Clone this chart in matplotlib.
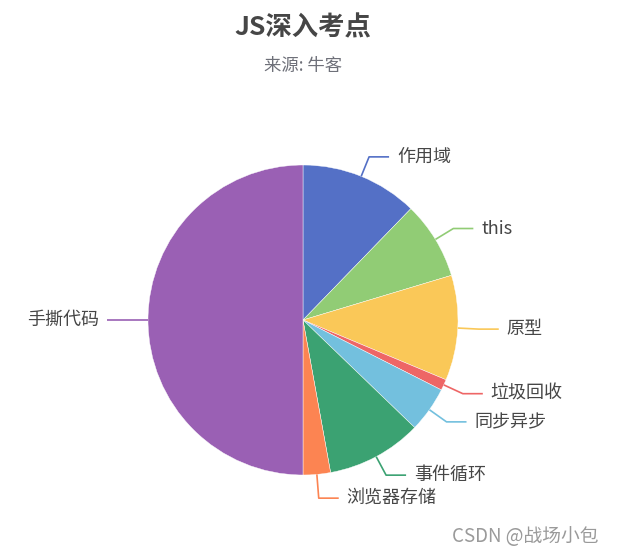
import numpy as np
import matplotlib
matplotlib.use('Agg')
import matplotlib.pyplot as plt

plt.rcParams['font.family'] = ['Noto Sans CJK SC', 'DejaVu Sans']

# data (share of topics)
labels = ['作用域', 'this', '原型', '垃圾回收', '同步异步', '事件循环', '浏览器存储', '手撕代码']
values = [12.25, 8.1, 10.95, 1.15, 4.75, 9.95, 2.85, 50.0]
colors = ['#5470c6', '#91cc75', '#fac858', '#ee6666', '#73c0de', '#3ba272', '#fc8452', '#9a60b4']

title = 'JS深入考点'
subtitle = '来源: 牛客'
watermark = 'CSDN @战场小包'

W, H = 617, 554
fig = plt.figure(figsize=(W / 100, H / 100), dpi=100)
ax = fig.add_axes([0, 0, 1, 1])

cx, cy, r = 303, H - 320, 155
ax.pie(values, colors=colors, startangle=90, counterclock=False,
       center=(cx, cy), radius=r,
       wedgeprops=dict(edgecolor='white', linewidth=0.3))
ax.set_xlim(0, W)
ax.set_ylim(0, H)
ax.set_aspect('equal')
ax.axis('off')

# label lines: out along the mid angle, then horizontal
len1, len2, gap, min_gap = 21, 20, 8, 23
total = float(sum(values))
mids = (np.cumsum(values) - np.array(values) / 2) / total * 2 * np.pi
sx, sy = np.sin(mids), np.cos(mids)
ex = cx + (r + len1) * sx
ey = cy + (r + len1) * sy
side = np.where(sx >= 0, 1, -1)

# overlap avoidance, per side: push the lower label down
ly = ey.copy()
for s in (1, -1):
    idx = [i for i in np.argsort(-ly) if side[i] == s]
    for a, b in zip(idx[:-1], idx[1:]):
        if ly[a] - ly[b] < min_gap:
            ly[b] = ly[a] - min_gap

for i, (lab, c) in enumerate(zip(labels, colors)):
    x0, y0 = cx + r * sx[i], cy + r * sy[i]
    x2 = ex[i] + side[i] * len2
    ax.plot([x0, ex[i], x2], [y0, ly[i], ly[i]], color=c, lw=1.2,
            solid_capstyle='butt')
    ax.text(x2 + side[i] * gap, ly[i], lab, fontsize=13, color='#464646',
            ha='left' if side[i] > 0 else 'right', va='center')

fig.text(303 / W, 1 - 28 / H, title, fontsize=19, fontweight='bold',
         color='#464646', ha='center', va='center')
fig.text(303 / W, 1 - 66 / H, subtitle, fontsize=12.5, color='#6e7079',
         ha='center', va='center')
fig.text(525 / W, 1 - 537 / H, watermark, fontsize=13.5, color='#9a9a9a',
         ha='center', va='center')

fig.savefig('out.png', dpi=100)
